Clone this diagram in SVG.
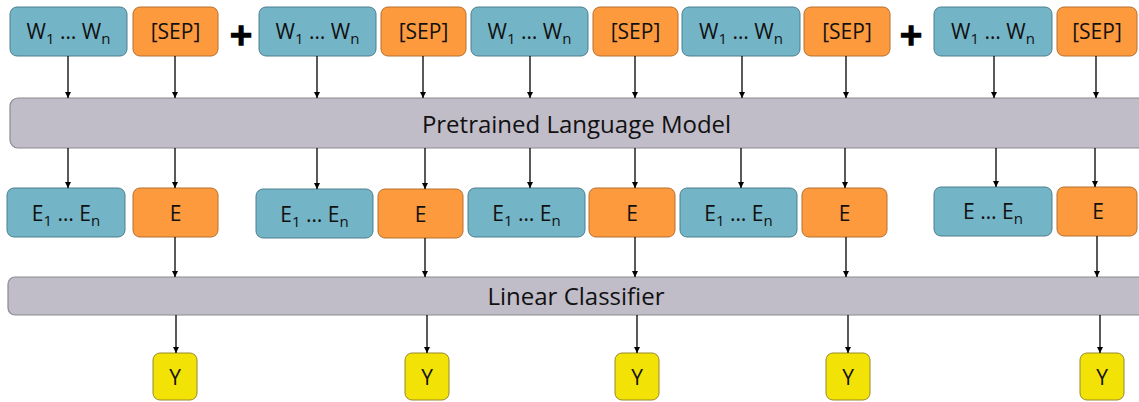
<svg xmlns="http://www.w3.org/2000/svg" width="1139" height="402" viewBox="0 0 1139 402">
  <defs>
    <marker id="arrow" markerUnits="userSpaceOnUse" markerWidth="7" markerHeight="7" refX="6" refY="3" orient="auto">
      <path d="M0,0 L6,3 L0,6 z" fill="#000"/>
    </marker>
    <style>
      .tok { fill: #73B4C7; stroke: #4E7F8E; stroke-width: 1; }
      .sep { fill: #FD9A3D; stroke: #B5702F; stroke-width: 1; }
      .bar { fill: #C0BCC8; stroke: #8C8A90; stroke-width: 1.2; }
      .out { fill: #F3E206; stroke: #968A2B; stroke-width: 1; }
      text { font-family: "Open Sans", "Liberation Sans", sans-serif; fill: #111; text-anchor: middle; }
      .lbl { font-size: 21px; }
      .emb { font-size: 21px; }
      .big { font-size: 24px; }
      .sub { font-size: 15px; }
      .plus { font-family: "DejaVu Sans", sans-serif; font-weight: bold; font-size: 30px; fill: #000; stroke: #000; stroke-width: 1.6; }
      .conn line { stroke: #000; stroke-width: 1.3; marker-end: url(#arrow); }
    </style>
  </defs>

  <!-- input tokens -->
  <g id="in-w1"><rect class="tok" x="10" y="7" width="117" height="49" rx="7"/><text class="lbl" x="68.5" y="39">W<tspan class="sub" dy="5">1</tspan><tspan dy="-5"> … W</tspan><tspan class="sub" dy="5">n</tspan></text></g>
  <g id="in-sep1"><rect class="sep" x="133" y="7" width="85" height="49" rx="7"/><text class="lbl" x="175.5" y="39">[SEP]</text></g>
  <g id="plus1"><text class="plus" x="241" y="45">+</text></g>
  <g id="in-w2"><rect class="tok" x="259" y="7" width="117" height="49" rx="7"/><text class="lbl" x="317.5" y="39">W<tspan class="sub" dy="5">1</tspan><tspan dy="-5"> … W</tspan><tspan class="sub" dy="5">n</tspan></text></g>
  <g id="in-sep2"><rect class="sep" x="381" y="7" width="85" height="49" rx="7"/><text class="lbl" x="423.5" y="39">[SEP]</text></g>
  <g id="in-w3"><rect class="tok" x="471" y="7" width="117" height="49" rx="7"/><text class="lbl" x="529.5" y="39">W<tspan class="sub" dy="5">1</tspan><tspan dy="-5"> … W</tspan><tspan class="sub" dy="5">n</tspan></text></g>
  <g id="in-sep3"><rect class="sep" x="593" y="7" width="85" height="49" rx="7"/><text class="lbl" x="635.5" y="39">[SEP]</text></g>
  <g id="in-w4"><rect class="tok" x="682" y="7" width="118" height="49" rx="7"/><text class="lbl" x="741" y="39">W<tspan class="sub" dy="5">1</tspan><tspan dy="-5"> … W</tspan><tspan class="sub" dy="5">n</tspan></text></g>
  <g id="in-sep4"><rect class="sep" x="804" y="7" width="86" height="49" rx="7"/><text class="lbl" x="847" y="39">[SEP]</text></g>
  <g id="plus2"><text class="plus" x="911" y="45">+</text></g>
  <g id="in-w5"><rect class="tok" x="934" y="7" width="118" height="49" rx="7"/><text class="lbl" x="993" y="39">W<tspan class="sub" dy="5">1</tspan><tspan dy="-5"> … W</tspan><tspan class="sub" dy="5">n</tspan></text></g>
  <g id="in-sep5"><rect class="sep" x="1057" y="7" width="80" height="49" rx="7"/><text class="lbl" x="1097" y="39">[SEP]</text></g>

  <!-- encoder -->
  <g id="plm"><rect class="bar" x="10" y="98" width="1140" height="50" rx="8"/><text class="big" x="576.5" y="133">Pretrained Language Model</text></g>

  <!-- embeddings -->
  <g id="emb-e1"><rect class="tok" x="7" y="188" width="118" height="49" rx="7"/><text class="emb" x="66" y="221">E<tspan class="sub" dy="5">1</tspan><tspan dy="-5"> … E</tspan><tspan class="sub" dy="5">n</tspan></text></g>
  <g id="emb-s1"><rect class="sep" x="133" y="188" width="85" height="49" rx="7"/><text class="emb" x="175.5" y="221">E</text></g>
  <g id="emb-e2"><rect class="tok" x="256" y="189" width="117" height="49" rx="7"/><text class="emb" x="314.5" y="222">E<tspan class="sub" dy="5">1</tspan><tspan dy="-5"> … E</tspan><tspan class="sub" dy="5">n</tspan></text></g>
  <g id="emb-s2"><rect class="sep" x="378" y="189" width="85" height="49" rx="7"/><text class="emb" x="420.5" y="222">E</text></g>
  <g id="emb-e3"><rect class="tok" x="468" y="188" width="117" height="49" rx="7"/><text class="emb" x="526.5" y="221">E<tspan class="sub" dy="5">1</tspan><tspan dy="-5"> … E</tspan><tspan class="sub" dy="5">n</tspan></text></g>
  <g id="emb-s3"><rect class="sep" x="589" y="188" width="86" height="49" rx="7"/><text class="emb" x="632" y="221">E</text></g>
  <g id="emb-e4"><rect class="tok" x="680" y="188" width="117" height="49" rx="7"/><text class="emb" x="738.5" y="221">E<tspan class="sub" dy="5">1</tspan><tspan dy="-5"> … E</tspan><tspan class="sub" dy="5">n</tspan></text></g>
  <g id="emb-s4"><rect class="sep" x="802" y="188" width="85" height="49" rx="7"/><text class="emb" x="844.5" y="221">E</text></g>
  <g id="emb-e5"><rect class="tok" x="934" y="187" width="118" height="49" rx="7"/><text class="emb" x="993" y="219">E … E<tspan class="sub" dy="5">n</tspan></text></g>
  <g id="emb-s5"><rect class="sep" x="1057" y="187" width="80" height="49" rx="7"/><text class="emb" x="1098" y="219">E</text></g>

  <!-- classifier -->
  <g id="classifier"><rect class="bar" x="8" y="277" width="1142" height="38" rx="7"/><text class="big" x="576" y="305">Linear Classifier</text></g>

  <!-- outputs -->
  <g id="y1"><rect class="out" x="153" y="353" width="44" height="47" rx="7"/><text class="emb" x="175" y="385">Y</text></g>
  <g id="y2"><rect class="out" x="405" y="353" width="44" height="47" rx="7"/><text class="emb" x="427" y="385">Y</text></g>
  <g id="y3"><rect class="out" x="615" y="353" width="44" height="47" rx="7"/><text class="emb" x="637" y="385">Y</text></g>
  <g id="y4"><rect class="out" x="826" y="353" width="44" height="47" rx="7"/><text class="emb" x="848" y="385">Y</text></g>
  <g id="y5"><rect class="out" x="1080" y="353" width="44" height="47" rx="7"/><text class="emb" x="1102" y="385">Y</text></g>

  <!-- connectors -->
  <g class="conn" id="connectors">
    <line x1="68" y1="56" x2="68" y2="98"/>
    <line x1="175" y1="56" x2="175" y2="98"/>
    <line x1="317" y1="56" x2="317" y2="98"/>
    <line x1="423" y1="56" x2="423" y2="98"/>
    <line x1="530" y1="56" x2="530" y2="98"/>
    <line x1="635" y1="56" x2="635" y2="98"/>
    <line x1="742" y1="56" x2="742" y2="98"/>
    <line x1="846" y1="56" x2="846" y2="98"/>
    <line x1="994" y1="56" x2="994" y2="98"/>
    <line x1="1096" y1="56" x2="1096" y2="98"/>

    <line x1="68" y1="148" x2="68" y2="188"/>
    <line x1="175" y1="148" x2="175" y2="188"/>
    <line x1="317" y1="148" x2="317" y2="189"/>
    <line x1="425" y1="148" x2="425" y2="189"/>
    <line x1="530" y1="148" x2="530" y2="188"/>
    <line x1="635" y1="148" x2="635" y2="188"/>
    <line x1="741" y1="148" x2="741" y2="188"/>
    <line x1="845" y1="148" x2="845" y2="188"/>
    <line x1="996" y1="148" x2="996" y2="187"/>
    <line x1="1095" y1="148" x2="1095" y2="187"/>

    <line x1="175" y1="237" x2="175" y2="277"/>
    <line x1="425" y1="238" x2="425" y2="277"/>
    <line x1="635" y1="237" x2="635" y2="277"/>
    <line x1="846" y1="237" x2="846" y2="277"/>
    <line x1="1097" y1="236" x2="1097" y2="277"/>

    <line x1="176" y1="315" x2="176" y2="353"/>
    <line x1="427" y1="315" x2="427" y2="353"/>
    <line x1="637" y1="315" x2="637" y2="353"/>
    <line x1="848" y1="315" x2="848" y2="353"/>
    <line x1="1100" y1="315" x2="1100" y2="353"/>
  </g>
</svg>
